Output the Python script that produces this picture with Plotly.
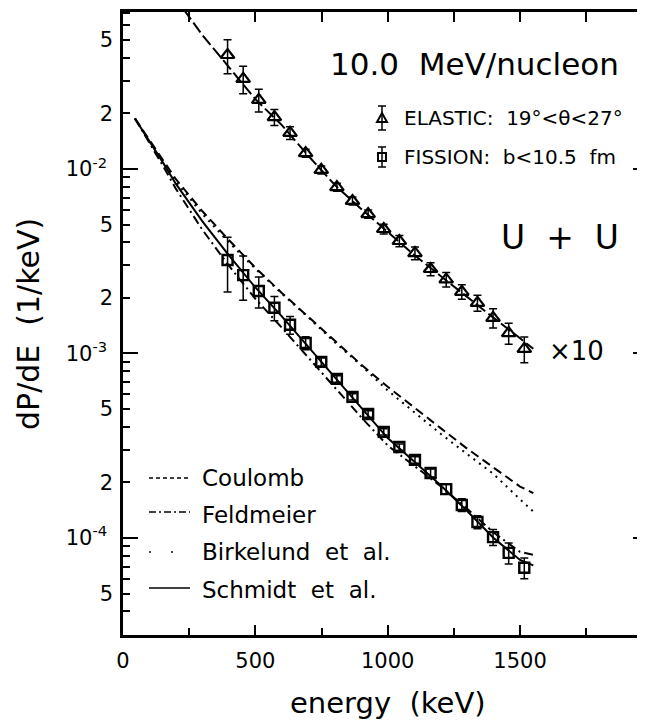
import plotly.graph_objects as go

# ---------------- data ----------------
elastic_energy = [395, 454, 513, 572, 631, 690, 749, 808, 867, 926,
                  985, 1044, 1103, 1162, 1221, 1280, 1339, 1398, 1457, 1516]
elastic_dpde = [0.0415, 0.0308, 0.0237, 0.0191, 0.0157, 0.0122, 0.0099, 0.00798, 0.00671, 0.0057,
                0.00473, 0.00407, 0.0035, 0.00287, 0.00252, 0.00216, 0.00188, 0.00156, 0.00129, 0.00106]
elastic_relerr = [0.21, 0.17, 0.14, 0.10, 0.08, 0.05, 0.05, 0.05, 0.05, 0.05,
                  0.06, 0.07, 0.08, 0.08, 0.09, 0.09, 0.10, 0.12, 0.13, 0.16]

fission_energy = [395, 454, 513, 572, 631, 690, 749, 808, 867, 926,
                  985, 1044, 1103, 1162, 1221, 1280, 1339, 1398, 1457, 1516]
fission_dpde = [0.00321, 0.00266, 0.00218, 0.00177, 0.00143, 0.00114, 0.00090, 0.000728, 0.000582, 0.00047,
                0.000376, 0.000311, 0.000265, 0.000225, 0.000184, 0.000151, 0.000122, 0.000101, 8.3e-5, 6.9e-5]
fission_relerr = [0.33, 0.27, 0.19, 0.15, 0.11, 0.08, 0.05, 0.04, 0.04, 0.04,
                  0.04, 0.04, 0.04, 0.05, 0.06, 0.08, 0.08, 0.10, 0.13, 0.13]

elastic_curve_energy = [230, 300, 400, 500, 600, 700, 800, 900, 1000, 1100,
                        1200, 1300, 1400, 1500, 1550]
elastic_curve = [0.073, 0.0532, 0.0357, 0.0239, 0.0173, 0.0118, 0.0082, 0.00607, 0.00456, 0.00342,
                 0.00263, 0.00202, 0.00156, 0.00121, 0.00106]

curve_energy = [45, 100, 150, 200, 250, 300, 400, 500, 600, 700,
                800, 900, 1000, 1100, 1200, 1300, 1400, 1500, 1550]
coulomb = [0.0188, 0.0144, 0.0112, 0.0088, 0.0072, 0.0059, 0.00412, 0.00292, 0.00213, 0.00158,
           0.00116, 0.00087, 0.00066, 0.000507, 0.000394, 0.000305, 0.00024, 0.00019, 0.000175]
birkelund = [0.0188, 0.0141, 0.0109, 0.0085, 0.0070, 0.0057, 0.0040, 0.00288, 0.00211, 0.00157,
             0.00115, 0.00086, 0.00063, 0.000479, 0.000367, 0.000285, 0.000222, 0.000162, 0.000139]
feldmeier = [0.0188, 0.0139, 0.01046, 0.0078, 0.00607, 0.00468, 0.00299, 0.00198, 0.00138, 0.000948,
             0.000653, 0.000451, 0.000317, 0.000247, 0.000191, 0.000144, 0.000107, 8.4e-5, 8.1e-5]
schmidt = [0.0188, 0.0142, 0.0109, 0.0083, 0.0066, 0.0052, 0.0034, 0.00228, 0.00159, 0.00109,
           0.00075, 0.000513, 0.000348, 0.00026, 0.000193, 0.00014, 0.0001, 0.000076, 0.000071]

x_major_ticks = [0, 500, 1000, 1500]
x_major_labels = ["0", "500", "1000", "1500"]
x_minor_ticks = [250, 750, 1250, 1750]
x_top_ticks = [250, 500, 750, 1000, 1250, 1500, 1750]

y_decade_ticks = [1e-2, 1e-3, 1e-4]
y_decade_labels = ["10<sup>-2</sup>", "10<sup>-3</sup>", "10<sup>-4</sup>"]
y_label_ticks = [5e-2, 2e-2, 5e-3, 2e-3, 5e-4, 2e-4, 5e-5]
y_label_text = ["5", "2", "5", "2", "5", "2", "5"]
y_minor_ticks = [m * d for d in (1e-2, 1e-3, 1e-4, 1e-5) for m in (2, 3, 4, 5, 6, 7, 8, 9)]
y_minor_other = [m * d for d in (1e-2, 1e-3, 1e-4, 1e-5) for m in (3, 4, 6, 7, 8, 9)]

FONT = "DejaVu Sans"
X_RANGE = [0, 1972]
Y_RANGE = [-4.526, -1.149]

fig = go.Figure()

fig.add_trace(go.Scatter(x=curve_energy, y=coulomb, mode="lines",
                         line=dict(color="black", width=2, dash="9px,5px")))
fig.add_trace(go.Scatter(x=curve_energy, y=birkelund, mode="lines",
                         line=dict(color="black", width=2, dash="2px,5px")))
fig.add_trace(go.Scatter(x=curve_energy, y=feldmeier, mode="lines",
                         line=dict(color="black", width=2, dash="9px,4px,2px,4px")))
fig.add_trace(go.Scatter(x=curve_energy, y=schmidt, mode="lines", yaxis="y3",
                         line=dict(color="black", width=2)))
fig.add_trace(go.Scatter(x=elastic_curve_energy, y=elastic_curve, mode="lines",
                         line=dict(color="black", width=2, dash="12px,4px")))

fig.add_trace(go.Scatter(
    x=elastic_energy, y=elastic_dpde, mode="markers", xaxis="x2",
    marker=dict(symbol="triangle-up-open", size=12, color="black", line=dict(width=2.2, color="black")),
    error_y=dict(type="data", array=[v * e for v, e in zip(elastic_dpde, elastic_relerr)],
                 color="black", thickness=1.5, width=4)))
fig.add_trace(go.Scatter(
    x=fission_energy, y=fission_dpde, mode="markers", yaxis="y2",
    marker=dict(symbol="square-open", size=10, color="black", line=dict(width=2.4, color="black")),
    error_y=dict(type="data", array=[v * e for v, e in zip(fission_dpde, fission_relerr)],
                 color="black", thickness=1.5, width=4)))

tickfont = dict(family=FONT, size=21, color="black")

# The page body adds an 8 px offset; the figure is sized so that it ends at the window edge.
fig.update_layout(
    width=637, height=713,
    margin=dict(l=115, r=0, t=4, b=86),
    paper_bgcolor="white", plot_bgcolor="white",
    showlegend=False,
    font=dict(family=FONT, color="black"),
    xaxis=dict(range=X_RANGE, showgrid=False, zeroline=False,
               showline=True, linewidth=2.5, linecolor="black",
               ticks="inside", ticklen=10, tickwidth=2, tickcolor="black",
               tickmode="array", tickvals=x_major_ticks, ticktext=x_major_labels,
               tickfont=tickfont, ticklabelstandoff=5,
               minor=dict(tickmode="array", tickvals=x_minor_ticks, ticks="inside",
                          ticklen=7, tickwidth=2, tickcolor="black", showgrid=False)),
    xaxis2=dict(range=X_RANGE, overlaying="x", side="top", anchor="y",
                showgrid=False, zeroline=False,
                showline=True, linewidth=2.5, linecolor="black",
                ticks="inside", ticklen=10, tickwidth=2, tickcolor="black",
                tickmode="array", tickvals=x_top_ticks, showticklabels=False),
    yaxis=dict(type="log", range=Y_RANGE, showgrid=False, zeroline=False,
               showline=True, linewidth=2.5, linecolor="black",
               ticks="inside", ticklen=15, tickwidth=2, tickcolor="black",
               tickmode="array", tickvals=y_decade_ticks, ticktext=y_decade_labels,
               tickfont=tickfont, ticklabelstandoff=9,
               minor=dict(tickmode="array", tickvals=y_minor_other, ticks="inside",
                          ticklen=7, tickwidth=2, tickcolor="black", showgrid=False)),
    yaxis2=dict(type="log", range=Y_RANGE, overlaying="y", side="left", anchor="x",
                showgrid=False, zeroline=False, showline=False,
                ticks="inside", ticklen=7, tickwidth=2, tickcolor="black",
                tickmode="array", tickvals=y_label_ticks, ticktext=y_label_text,
                tickfont=tickfont, ticklabelstandoff=9),
    yaxis3=dict(type="log", range=Y_RANGE, overlaying="y", side="right", anchor="x",
                showgrid=False, zeroline=False, showline=False,
                ticks="inside", ticklen=12, tickwidth=2, tickcolor="black",
                tickmode="array", tickvals=y_decade_ticks, showticklabels=False,
                minor=dict(tickmode="array", tickvals=y_minor_ticks, ticks="inside",
                           ticklen=4, tickwidth=2, tickcolor="black", showgrid=False)),
)

# ---- window pixel -> paper helpers for the decorations ----
PL, PR, PT, PB = 123, 645, 12, 635
def px(xp):
    return (xp - PL) / (PR - PL)
def py(yp):
    return (PB - yp) / (PB - PT)

ann = []
def text(t, x, y, size, xanchor="center", yanchor="middle", angle=0):
    ann.append(dict(text=t, x=px(x), y=py(y), xref="paper", yref="paper",
                    xanchor=xanchor, yanchor=yanchor, showarrow=False, textangle=angle,
                    font=dict(family=FONT, size=size, color="black")))

text("10.0  MeV/nucleon", 474, 64, 31)
text("ELASTIC:  19°<θ<27°", 402, 118, 20, xanchor="left")
text("FISSION:  b<10.5  fm", 402, 157, 20, xanchor="left")
text("U  +  U", 560, 237, 33)
text("×10", 576, 351, 26)
text("Coulomb", 200, 478, 23, xanchor="left")
text("Feldmeier", 200, 515, 23, xanchor="left")
text("Birkelund  et  al.", 200, 552, 23, xanchor="left")
text("Schmidt  et  al.", 200, 590, 23, xanchor="left")
text("energy  (keV)", 388, 703, 29)
text("dP/dE  (1/keV)", 28, 324, 30, angle=-90)

shapes = []
legend_lines = [(478, "4px,3px"), (512, "7px,3px,2px,3px"), (552, "2px,20px"), (588, "solid")]
for yp, dash in legend_lines:
    shapes.append(dict(type="line", xref="paper", yref="paper",
                       x0=px(149), x1=px(190), y0=py(yp), y1=py(yp),
                       line=dict(color="black", width=1.6, dash=dash)))

def sym_shape(path, xc, yc):
    shapes.append(dict(type="path", xref="paper", yref="paper",
                       xsizemode="pixel", ysizemode="pixel",
                       xanchor=px(xc), yanchor=py(yc), path=path,
                       line=dict(color="black", width=2)))

def errbar(xc, yc, half):
    for seg in (f"M0,{-half} L0,{half}", f"M-4,{half} L4,{half}", f"M-4,{-half} L4,{-half}"):
        shapes.append(dict(type="path", xref="paper", yref="paper",
                           xsizemode="pixel", ysizemode="pixel",
                           xanchor=px(xc), yanchor=py(yc), path=seg,
                           line=dict(color="black", width=1.5)))

errbar(382, 118, 12)
sym_shape("M-5,-4 L5,-4 L0,5 Z", 382, 118)
errbar(382, 157, 10)
sym_shape("M-4,-4 L4,-4 L4,4 L-4,4 Z", 382, 157)

fig.update_layout(annotations=ann, shapes=shapes)

fig.write_html("out.html")
